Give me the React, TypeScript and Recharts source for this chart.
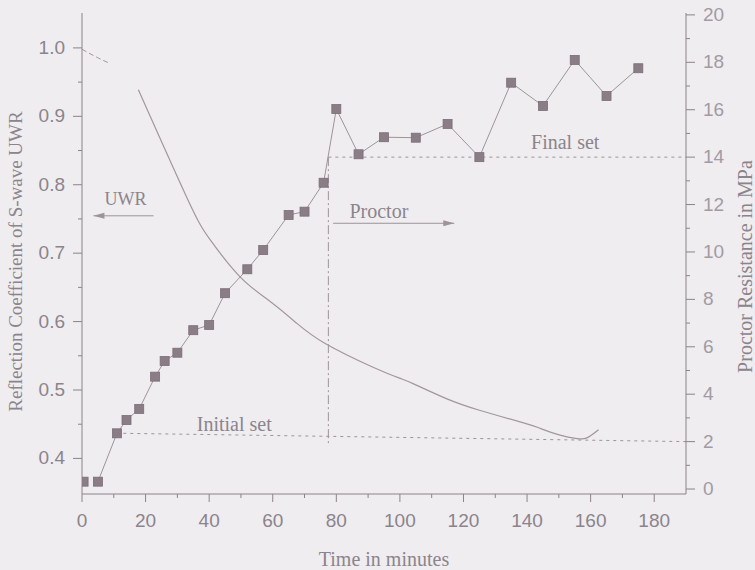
import React from 'react';
import {
  ComposedChart,
  Line,
  XAxis,
  YAxis,
  ReferenceLine,
  ReferenceDot,
  Label,
} from 'recharts';

// ---- Data ----
const proctorTime = [0.5, 5, 11, 14, 18, 23, 26, 30, 35, 40, 45, 52, 57, 65, 70, 76, 80, 87, 95, 105, 115, 125, 135, 145, 155, 165, 175];
const proctorMPa = [0.31, 0.31, 2.35, 2.91, 3.38, 4.74, 5.4, 5.75, 6.7, 6.92, 8.26, 9.27, 10.08, 11.56, 11.7, 12.92, 16.03, 14.12, 14.84, 14.82, 15.4, 14.0, 17.14, 16.16, 18.1, 16.58, 17.75];

const uwrDashTime = [0, 4.8, 8.4];
const uwrDashValue = [0.998, 0.986, 0.978];

const uwrTime = [17.7, 33.4, 40.4, 49.8, 59.3, 67.7, 76.5, 91.2, 100.1, 104.3, 114.8, 125.3, 138.9, 144.1, 150.4, 155.7, 158.8, 162.5];
const uwrValue = [0.939, 0.777, 0.719, 0.665, 0.629, 0.597, 0.568, 0.534, 0.517, 0.509, 0.487, 0.47, 0.452, 0.444, 0.434, 0.429, 0.43, 0.442];

const xMajorTicks = [0, 20, 40, 60, 80, 100, 120, 140, 160, 180];
const xMinorTicks = [10, 30, 50, 70, 90, 110, 130, 150, 170];
const leftMajorTicks = [0.4, 0.5, 0.6, 0.7, 0.8, 0.9, 1.0];
const leftMinorTicks = [0.45, 0.55, 0.65, 0.75, 0.85, 0.95];
const rightMajorTicks = [0, 2, 4, 6, 8, 10, 12, 14, 16, 18, 20];
const rightMinorTicks = [1, 3, 5, 7, 9, 11, 13, 15, 17, 19];

// set markers (time, MPa)
const initialSetStart = { t: 13, mpa: 2.35 };
const initialSetEnd = { t: 190, mpa: 2.0 };
const finalSetStart = { t: 77.5, mpa: 14 };
const finalSetEnd = { t: 190, mpa: 14 };
const proctorStartLine = { t: 77.5, top: 14, bottom: 1.86 };

const proctorData = proctorTime.map((t, i) => ({ t, mpa: proctorMPa[i] }));
const proctorLineData = proctorData.slice(1);
const uwrDashData = uwrDashTime.map((t, i) => ({ t, v: uwrDashValue[i] }));
const uwrData = uwrTime.map((t, i) => ({ t, v: uwrValue[i] }));

const xTicks = [...xMajorTicks, ...xMinorTicks].sort((a, b) => a - b);
const leftTicks = [...leftMajorTicks, ...leftMinorTicks].sort((a, b) => a - b);
const rightTicks = [...rightMajorTicks, ...rightMinorTicks].sort((a, b) => a - b);

// ---- Styles ----
const BG = '#efedf0';
const AXIS = '#8c838a';
const TEXT = '#8b848c';
const TEXT_LIGHT = '#a29ba3';
const CURVE = '#a2979c';
const SQUARE_FILL = '#8a7d85';
const SQUARE_STROKE = '#7b6e76';
const GUIDE = '#9d9499';
const SANS = '"Liberation Sans", Arial, sans-serif';
const SERIF = '"Liberation Serif", "Times New Roman", serif';

const isIn = (arr: number[], v: number) => arr.some((a) => Math.abs(a - v) < 1e-9);

const BottomTick = (p: any) => {
  const { x, y, payload } = p;
  const major = isIn(xMajorTicks, payload.value);
  return (
    <g>
      <line x1={x} y1={y} x2={x} y2={y + (major ? 8 : 4)} stroke={AXIS} strokeWidth={1} />
      {major && (
        <text x={x} y={y + 33} textAnchor="middle" fill={TEXT} fontSize={19} fontFamily={SANS}>
          {payload.value}
        </text>
      )}
    </g>
  );
};

const TopTick = (p: any) => {
  const { x, y, payload } = p;
  const major = isIn(xMajorTicks, payload.value);
  return <line x1={x} y1={y} x2={x} y2={y + (major ? 9 : 5)} stroke={AXIS} strokeWidth={1} />;
};

const LeftTick = (p: any) => {
  const { x, y, payload } = p;
  const major = isIn(leftMajorTicks, payload.value);
  return (
    <g>
      <line x1={x} y1={y} x2={x - (major ? 9 : 4)} y2={y} stroke={AXIS} strokeWidth={1} />
      {major && (
        <text x={x - 17} y={y + 6} textAnchor="end" fill={TEXT} fontSize={19} fontFamily={SANS}>
          {Number(payload.value).toFixed(1)}
        </text>
      )}
    </g>
  );
};

const RightTick = (p: any) => {
  const { x, y, payload } = p;
  const major = isIn(rightMajorTicks, payload.value);
  return (
    <g>
      <line x1={x} y1={y} x2={x + (major ? 9 : 4)} y2={y} stroke={AXIS} strokeWidth={1} />
      {major && (
        <text x={x + 17} y={y + 6} textAnchor="start" fill={TEXT_LIGHT} fontSize={19} fontFamily={SANS}>
          {payload.value}
        </text>
      )}
    </g>
  );
};

const squareDot = (p: any) => {
  const { cx, cy, index } = p;
  if (cx == null || cy == null) return <g key={`sq-${index}`} />;
  return (
    <rect
      key={`sq-${index}`}
      x={cx - 4.5}
      y={cy - 4.5}
      width={9}
      height={9}
      fill={SQUARE_FILL}
      stroke={SQUARE_STROKE}
      strokeWidth={0.8}
    />
  );
};

const arrowShape = (headAtEnd: boolean) => (p: any) => {
  const { x1, y1, x2, y2 } = p;
  const hx = headAtEnd ? x2 : x1;
  const hy = headAtEnd ? y2 : y1;
  const tx = headAtEnd ? x1 : x2;
  const dir = Math.sign(hx - tx) || 1;
  return (
    <g>
      <line x1={x1} y1={y1} x2={x2} y2={y2} stroke={GUIDE} strokeWidth={1} />
      <polygon
        points={`${hx},${hy} ${hx - dir * 11},${hy - 3} ${hx - dir * 11},${hy + 3}`}
        fill={GUIDE}
      />
    </g>
  );
};

const annotationLabel = (value: string, size: number) => ({
  value,
  position: 'center' as const,
  fill: TEXT,
  fontSize: size,
  fontFamily: SERIF,
});

export default function App() {
  return (
    <div style={{ position: 'absolute', left: 0, top: 0, width: 755, height: 570, background: BG }}>
      <ComposedChart width={755} height={570} margin={{ top: 13, right: 0, bottom: 0, left: 0 }}>
        <XAxis
          xAxisId={0}
          type="number"
          dataKey="t"
          domain={[0, 190]}
          ticks={xTicks}
          interval={0}
          height={76}
          tickSize={0}
          tickMargin={0}
          tickLine={false}
          tick={BottomTick}
          axisLine={{ stroke: AXIS, strokeWidth: 1 }}
          allowDataOverflow
        >
          <Label
            content={(p: any) => {
              const vb = p.viewBox || {};
              return (
                <text x={vb.x + vb.width / 2} y={vb.y + 72} textAnchor="middle" fill={TEXT} fontSize={20} fontFamily={SERIF}>
                  Time in minutes
                </text>
              );
            }}
          />
        </XAxis>
        <XAxis
          xAxisId="top"
          orientation="top"
          type="number"
          dataKey="t"
          domain={[0, 190]}
          ticks={xTicks}
          interval={0}
          height={0}
          tickSize={0}
          tickMargin={0}
          tickLine={false}
          tick={TopTick}
          axisLine={{ stroke: AXIS, strokeWidth: 1 }}
          allowDataOverflow
        />
        <YAxis
          yAxisId="left"
          orientation="left"
          type="number"
          domain={[0.348, 1.051]}
          ticks={leftTicks}
          interval={0}
          width={82}
          tickSize={0}
          tickMargin={0}
          tickLine={false}
          tick={LeftTick}
          axisLine={{ stroke: AXIS, strokeWidth: 1 }}
          allowDataOverflow
        >
          <Label
            content={(p: any) => {
              const vb = p.viewBox || {};
              const cy = vb.y + vb.height / 2 + 8;
              return (
                <text
                  transform={`translate(22, ${cy}) rotate(-90)`}
                  textAnchor="middle"
                  fill={TEXT}
                  fontSize={19}
                  fontFamily={SERIF}
                >
                  Reflection Coefficient of S-wave UWR
                </text>
              );
            }}
          />
        </YAxis>
        <YAxis
          yAxisId="right"
          orientation="right"
          type="number"
          domain={[-0.21, 20.08]}
          ticks={rightTicks}
          interval={0}
          width={69}
          tickSize={0}
          tickMargin={0}
          tickLine={false}
          tick={RightTick}
          axisLine={{ stroke: AXIS, strokeWidth: 1 }}
          allowDataOverflow
        >
          <Label
            content={(p: any) => {
              const vb = p.viewBox || {};
              const cy = vb.y + vb.height / 2 + 13;
              return (
                <text
                  transform={`translate(${vb.x + 66}, ${cy}) rotate(-90)`}
                  textAnchor="middle"
                  fill={TEXT}
                  fontSize={20}
                  fontFamily={SERIF}
                >
                  Proctor Resistance in MPa
                </text>
              );
            }}
          />
        </YAxis>

        {/* set lines */}
        <ReferenceLine
          yAxisId="right"
          segment={[
            { x: initialSetStart.t, y: initialSetStart.mpa },
            { x: initialSetEnd.t, y: initialSetEnd.mpa },
          ]}
          stroke={GUIDE}
          strokeWidth={1}
          strokeDasharray="3 4"
          ifOverflow="visible"
        />
        <ReferenceLine
          yAxisId="right"
          segment={[
            { x: finalSetStart.t, y: finalSetStart.mpa },
            { x: finalSetEnd.t, y: finalSetEnd.mpa },
          ]}
          stroke={GUIDE}
          strokeWidth={1}
          strokeDasharray="3 4"
          ifOverflow="visible"
        />
        <ReferenceLine
          yAxisId="right"
          segment={[
            { x: proctorStartLine.t, y: proctorStartLine.top },
            { x: proctorStartLine.t, y: proctorStartLine.bottom },
          ]}
          stroke={GUIDE}
          strokeWidth={1}
          strokeDasharray="9 3 2 3"
          ifOverflow="visible"
        />

        {/* arrows */}
        <ReferenceLine
          yAxisId="left"
          segment={[
            { x: 3.6, y: 0.7546 },
            { x: 22.5, y: 0.7546 },
          ]}
          shape={arrowShape(false)}
          ifOverflow="visible"
        />
        <ReferenceLine
          yAxisId="right"
          segment={[
            { x: 79, y: 11.21 },
            { x: 117.1, y: 11.21 },
          ]}
          shape={arrowShape(true)}
          ifOverflow="visible"
        />

        {/* annotations */}
        <ReferenceDot yAxisId="left" x={13.7} y={0.78} r={0} fill="none" stroke="none" label={annotationLabel('UWR', 18)} ifOverflow="visible" />
        <ReferenceDot yAxisId="right" x={93.4} y={11.75} r={0} fill="none" stroke="none" label={annotationLabel('Proctor', 20)} ifOverflow="visible" />
        <ReferenceDot yAxisId="right" x={47.9} y={2.76} r={0} fill="none" stroke="none" label={annotationLabel('Initial set', 20)} ifOverflow="visible" />
        <ReferenceDot yAxisId="right" x={152} y={14.65} r={0} fill="none" stroke="none" label={annotationLabel('Final set', 20)} ifOverflow="visible" />

        {/* UWR curve */}
        <Line
          yAxisId="left"
          data={uwrDashData}
          dataKey="v"
          type="monotone"
          stroke={CURVE}
          strokeWidth={1}
          strokeDasharray="5 3"
          dot={false}
          activeDot={false}
          isAnimationActive={false}
        />
        <Line
          yAxisId="left"
          data={uwrData}
          dataKey="v"
          type="natural"
          stroke={CURVE}
          strokeWidth={1.2}
          dot={false}
          activeDot={false}
          isAnimationActive={false}
        />

        {/* Proctor resistance: connecting line, then square markers */}
        <Line
          yAxisId="right"
          data={proctorLineData}
          dataKey="mpa"
          type="linear"
          stroke={GUIDE}
          strokeWidth={1}
          dot={false}
          activeDot={false}
          isAnimationActive={false}
        />
        <Line
          yAxisId="right"
          data={proctorData}
          dataKey="mpa"
          type="linear"
          stroke="none"
          dot={squareDot}
          activeDot={false}
          isAnimationActive={false}
        />
      </ComposedChart>
    </div>
  );
}
